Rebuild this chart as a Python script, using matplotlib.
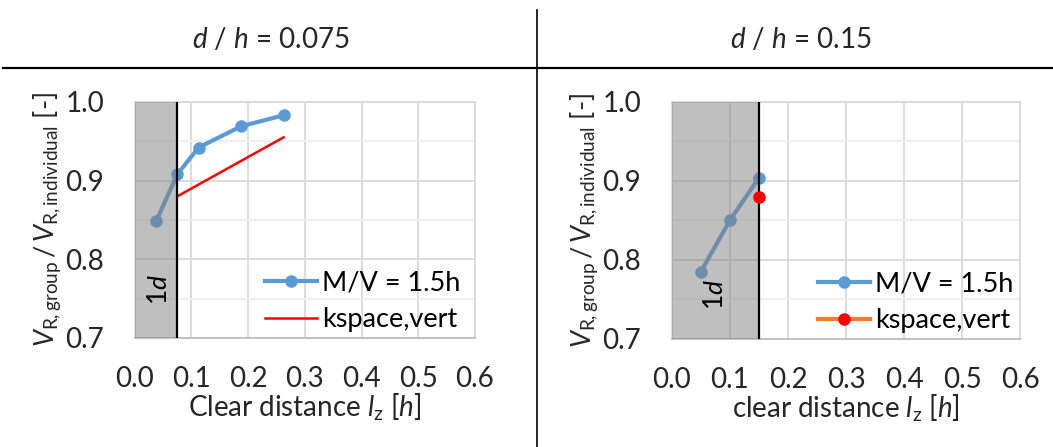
import numpy as np
import matplotlib.pyplot as plt
from matplotlib.lines import Line2D

plt.rcParams['font.family'] = ['Lato', 'DejaVu Sans']
plt.rcParams['mathtext.fontset'] = 'custom'
plt.rcParams['mathtext.rm'] = 'Lato'
plt.rcParams['mathtext.it'] = 'Lato:italic'

# data
titles = ["$d$ / $h$ = 0.075", "$d$ / $h$ = 0.15"]
xlabels = ["Clear distance $l_\\mathrm{z}$ [$h$]", "clear distance $l_\\mathrm{z}$ [$h$]"]
limit_d = [0.075, 0.15]  # 1d zone

mv_x_a = [0.0375, 0.075, 0.1125, 0.1875, 0.2625]
mv_y_a = [0.848, 0.908, 0.942, 0.969, 0.983]
ks_x_a = [0.075, 0.2625]
ks_y_a = [0.880, 0.955]

mv_x_b = [0.05, 0.10, 0.15]
mv_y_b = [0.785, 0.850, 0.904]
ks_x_b = [0.15]
ks_y_b = [0.880]

xticks = [0.0, 0.1, 0.2, 0.3, 0.4, 0.5, 0.6]
yticks = [0.7, 0.8, 0.9, 1.0]

blue = '#5B9BD5'
red = '#FF0000'
orange = '#ED7D31'
txt = '#262626'

fig = plt.figure(figsize=(10.53, 4.47), dpi=100)
ax1 = fig.add_axes([0.128, 0.244, 0.323, 0.528])
ax2 = fig.add_axes([0.638, 0.242, 0.331, 0.530])

ylabel = "$V_{\\mathrm{R,group}}\\,/\\,V_{\\mathrm{R,individual}}$ [-]"

for i, ax in enumerate([ax1, ax2]):
    ax.set_xlim(0, 0.6)
    ax.set_ylim(0.7, 1.0)
    ax.set_xticks(xticks)
    ax.set_yticks(yticks)
    ax.set_xticklabels(["%.1f" % v for v in xticks])
    ax.set_yticklabels(["%.1f" % v for v in yticks])
    ax.set_yticks([0.75, 0.85, 0.95], minor=True)
    ax.tick_params(axis='both', which='both', length=0, labelsize=20, colors=txt)
    ax.tick_params(axis='x', pad=20)
    ax.tick_params(axis='y', pad=22)
    ax.grid(which='major', color='#D9D9D9', lw=1.3, zorder=0)
    ax.grid(which='minor', axis='y', color='#EEEEEE', lw=1.3, zorder=0)
    ax.set_axisbelow(True)
    for s in ax.spines.values():
        s.set_color('#D9D9D9')
        s.set_linewidth(1.3)
    ax.spines['bottom'].set_color('#BFBFBF')
    ax.set_xlabel(xlabels[i], fontsize=20, labelpad=0, color=txt)
    ax.set_ylabel(ylabel, fontsize=19.5, labelpad=2, color=txt)
    ax.axvspan(0, limit_d[i], color='#808080', alpha=0.5, lw=0, zorder=4)
    ax.axvline(limit_d[i], color='black', lw=1.6, zorder=5)

ax1.plot(mv_x_a, mv_y_a, color=blue, lw=3, marker='o', ms=8, zorder=3, label='M/V = 1.5h')
ax1.plot(ks_x_a, ks_y_a, color=red, lw=1.8, zorder=3, label='kspace,vert')
ax1.text(0.043, 0.761, "1$d$", rotation=90, fontsize=19, ha='center', va='center', zorder=6)
ax1.legend(loc='lower right', bbox_to_anchor=(1.03, -0.08), frameon=False, fontsize=19.5,
           handlelength=1.9, handletextpad=0.2, labelspacing=0.45)

ax2.plot(mv_x_b, mv_y_b, color=blue, lw=3, marker='o', ms=8, zorder=3, label='M/V = 1.5h')
ax2.plot(ks_x_b, ks_y_b, color=red, ls='none', marker='o', ms=8, zorder=6)
h_mv = Line2D([], [], color=blue, lw=3, marker='o', ms=8)
h_ks = Line2D([], [], color=orange, lw=3, marker='o', ms=8, mfc=red, mec=red)
ax2.text(0.075, 0.756, "1$d$", rotation=90, fontsize=19, ha='center', va='center', zorder=6)
ax2.legend([h_mv, h_ks], ['M/V = 1.5h', 'kspace,vert'], loc='lower right',
           bbox_to_anchor=(1.05, -0.08), frameon=False, fontsize=19.5,
           handlelength=1.9, handletextpad=0.2, labelspacing=0.45)

# header with titles and separator lines
fig.text(0.257, 0.912, titles[0], fontsize=20, ha='center', va='center', color=txt)
fig.text(0.760, 0.912, titles[1], fontsize=20, ha='center', va='center', color=txt)
fig.add_artist(Line2D([0.003, 1.0], [1 - 68 / 447, 1 - 68 / 447], color='black', lw=1.6))
fig.add_artist(Line2D([537 / 1053, 537 / 1053], [0, 1 - 10 / 447], color='black', lw=1.2))

fig.savefig('out.png', dpi=100)
